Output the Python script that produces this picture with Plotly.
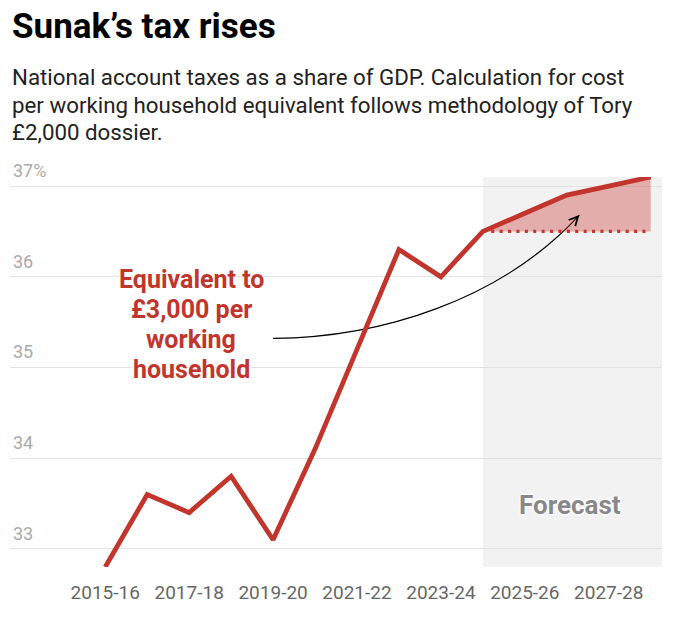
import plotly.graph_objects as go

# data
years = ["2015-16", "2016-17", "2017-18", "2018-19", "2019-20", "2020-21", "2021-22",
         "2022-23", "2023-24", "2024-25", "2025-26", "2026-27", "2027-28", "2028-29"]
tax_share = [32.8, 33.6, 33.4, 33.8, 33.1, 34.1, 35.2, 36.3, 36.0, 36.5, 36.7, 36.9, 37.0, 37.1]
forecast_start = 9          # 2024-25, start of the forecast period
baseline = 36.5             # level frozen at forecast start
y_ticks = [33, 34, 35, 36, 37]
y_tick_text = ["33", "34", "35", "36", "37%"]

title = "Sunak’s tax rises"
subtitle_lines = ["National account taxes as a share of GDP. Calculation for cost",
                  "per working household equivalent follows methodology of Tory",
                  "£2,000 dossier."]
note_lines = ["Equivalent to", "£3,000 per", "working", "household"]

RED = "#c1352d"
W, H = 680, 635
# plot area in page pixels: x 10..662, y 177..567
L, R, T, B = 10, 680 - 662, 177, 635 - 567
X_RANGE = [-2.27, 13.27]
Y_RANGE = [32.8, 37.1]


def py(pix):
    # page pixel row -> paper y
    return (567 - pix) / (567 - 177)


def px(pix):
    return (pix - 10) / (662 - 10)


xs = list(range(len(years)))
fx = xs[forecast_start:]
fy = tax_share[forecast_start:]

fig = go.Figure()

# invisible baseline so the gap can be filled
fig.add_trace(go.Scatter(x=fx, y=[baseline] * len(fx), mode="lines",
                         line=dict(width=0), hoverinfo="skip", showlegend=False))
fig.add_trace(go.Scatter(x=fx, y=fy, mode="lines", fill="tonexty",
                         fillcolor="rgba(196,50,45,0.36)", line=dict(width=0),
                         hoverinfo="skip", showlegend=False))
# dotted baseline
fig.add_trace(go.Scatter(x=fx, y=[baseline] * len(fx), mode="lines",
                         line=dict(color=RED, width=3.2, dash="3px,5.4px"),
                         hoverinfo="skip", showlegend=False))
# main line
fig.add_trace(go.Scatter(x=xs, y=tax_share, mode="lines",
                         line=dict(color=RED, width=4.8), showlegend=False))

# forecast shading
fig.add_shape(type="rect", xref="x", yref="paper", x0=forecast_start, x1=X_RANGE[1],
              y0=0, y1=1, fillcolor="#f2f2f2", line=dict(width=0), layer="below")

# curved arrow
fig.add_shape(type="path", xref="x", yref="y", layer="between",
              path="M 4,35.32 C 6.57,35.33 9.43,35.74 11.3,36.68",
              line=dict(color="black", width=1.2))
fig.add_annotation(x=11.3, y=36.68, ax=11.2, ay=36.63, xref="x", yref="y",
                   axref="x", ayref="y", text="", showarrow=True,
                   arrowhead=5, arrowsize=1.6, arrowwidth=1.1, arrowcolor="black")

font = "Roboto, Arial, sans-serif"
halo = "0 0 3px white, 0 0 3px white, 0 0 3px white, 0 0 3px white"

fig.add_annotation(text=f"<b>{title}</b>", xref="paper", yref="paper",
                   x=px(10), y=py(26), xanchor="left", yanchor="middle", showarrow=False,
                   font=dict(family=font, size=35, color="black"))
for i, line in enumerate(subtitle_lines):
    fig.add_annotation(text=line, xref="paper", yref="paper",
                       x=px(10), y=py(77 + 27.5 * i), xanchor="left", yanchor="middle",
                       showarrow=False, font=dict(family=font, size=22.3, color="#222"))

for i, line in enumerate(note_lines):
    fig.add_annotation(text=f"<b>{line}</b>", xref="paper", yref="paper",
                       x=px(191), y=py(279 + 30.3 * i), xanchor="center", yanchor="middle",
                       showarrow=False,
                       font=dict(family=font, size=25, color=RED, shadow=halo))

fig.add_annotation(text="<b>Forecast</b>", xref="paper", yref="paper",
                   x=px(570), y=py(505), xanchor="center", yanchor="middle", showarrow=False,
                   font=dict(family=font, size=26, color="#888", shadow=halo))

# y labels sit above their gridlines
for v, t in zip(y_ticks, y_tick_text):
    fig.add_annotation(text=t, xref="paper", yref="y", x=px(11), y=v,
                       xanchor="left", yanchor="bottom", yshift=3, showarrow=False,
                       font=dict(family=font, size=18, color="#aaa"))

fig.update_layout(
    width=W, height=H, margin=dict(l=L, r=R, t=T, b=B),
    paper_bgcolor="white", plot_bgcolor="white",
    xaxis=dict(range=X_RANGE, tickvals=xs[::2], ticktext=years[::2], showgrid=False,
               zeroline=False, showline=False, ticks="", ticklabelstandoff=12,
               tickfont=dict(family=font, size=19, color="#666")),
    yaxis=dict(range=Y_RANGE, tickvals=y_ticks, showticklabels=False,
               showgrid=True, gridcolor="#e2e2e2", gridwidth=1, zeroline=False),
    showlegend=False,
)

# drop the default page margin so the figure fills the window exactly
fig.write_html("out.html", config={"displayModeBar": False},
               post_script="document.body.style.margin='0';")
